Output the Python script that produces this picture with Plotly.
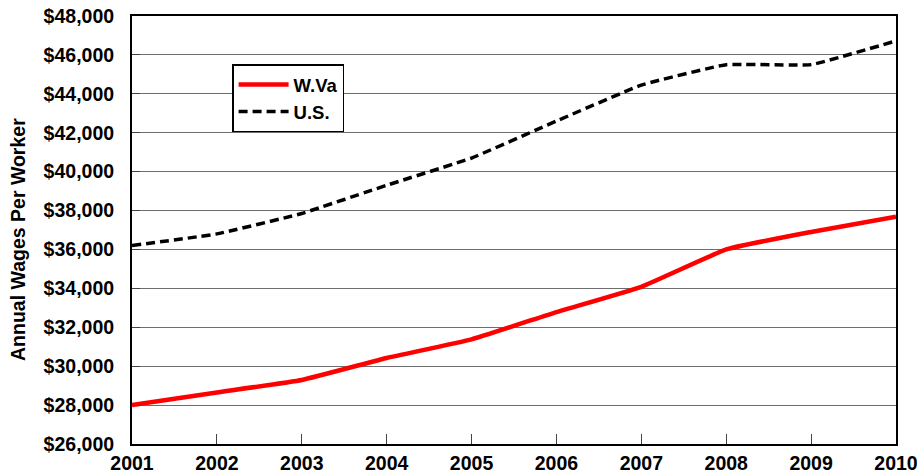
import plotly.graph_objects as go

years = [2001, 2002, 2003, 2004, 2005, 2006, 2007, 2008, 2009, 2010]
wva = [28000, 28650, 29290, 30420, 31380, 32780, 34080, 36000, 36900, 37680]
us = [36200, 36800, 37850, 39300, 40700, 42600, 44450, 45500, 45500, 46720]
y_ticks = list(range(26000, 48001, 2000))
y_labels = [f"${v:,}" for v in y_ticks]

font = dict(family="Liberation Sans, Arial, sans-serif", size=19.5, color="black")
legend_font = dict(family="Liberation Sans, Arial, sans-serif", size=18.5, color="black")

fig = go.Figure()
fig.add_trace(go.Scatter(x=years, y=wva, name="<b>W.Va</b>", mode="lines",
                         line=dict(color="#ff0000", width=4.5, shape="spline", smoothing=0.35)))
fig.add_trace(go.Scatter(x=years, y=us, name="<b>U.S.</b>", mode="lines",
                         line=dict(color="black", width=3.5, dash="9px,5px", shape="spline", smoothing=0.3)))

fig.update_layout(
    width=917, height=474,
    margin=dict(l=132, r=21, t=16, b=30),
    paper_bgcolor="white", plot_bgcolor="white",
    font=font,
    showlegend=True,
    legend=dict(x=0.131, y=0.887, xanchor="left", yanchor="top",
                bordercolor="black", borderwidth=1.5, bgcolor="white",
                font=legend_font, itemwidth=50, tracegroupgap=0),
    annotations=[dict(text="<b>Annual Wages Per Worker</b>", textangle=-90,
                      xref="paper", yref="paper", x=-0.149, y=0.477,
                      xanchor="center", yanchor="middle", showarrow=False, font=font)],
)
fig.update_xaxes(range=[2001, 2010], tickmode="array", tickvals=years,
                 ticktext=[f"<b>{y}</b>" for y in years],
                 showgrid=False, showline=True, linecolor="black", linewidth=2,
                 mirror=True, ticks="inside", ticklen=10, tickcolor="#444444", tickwidth=1,
                 tickfont=font, zeroline=False, automargin=False, ticklabelstandoff=1,
                 ticklabeloverflow="allow")
fig.update_yaxes(range=[26000, 48000], tickmode="array", tickvals=y_ticks,
                 ticktext=[f"<b>{t}</b>" for t in y_labels],
                 showgrid=True, gridcolor="#6e6e6e", gridwidth=1,
                 showline=True, linecolor="black", linewidth=2, mirror=True,
                 ticks="inside", ticklen=8, tickcolor="#444444",
                 tickfont=font, zeroline=False, automargin=False, ticklabelstandoff=12,
                 ticklabeloverflow="allow")

fig.write_html("out.html", config={"displayModeBar": False},
               post_script="document.body.style.margin='0';document.body.style.overflow='hidden';")
